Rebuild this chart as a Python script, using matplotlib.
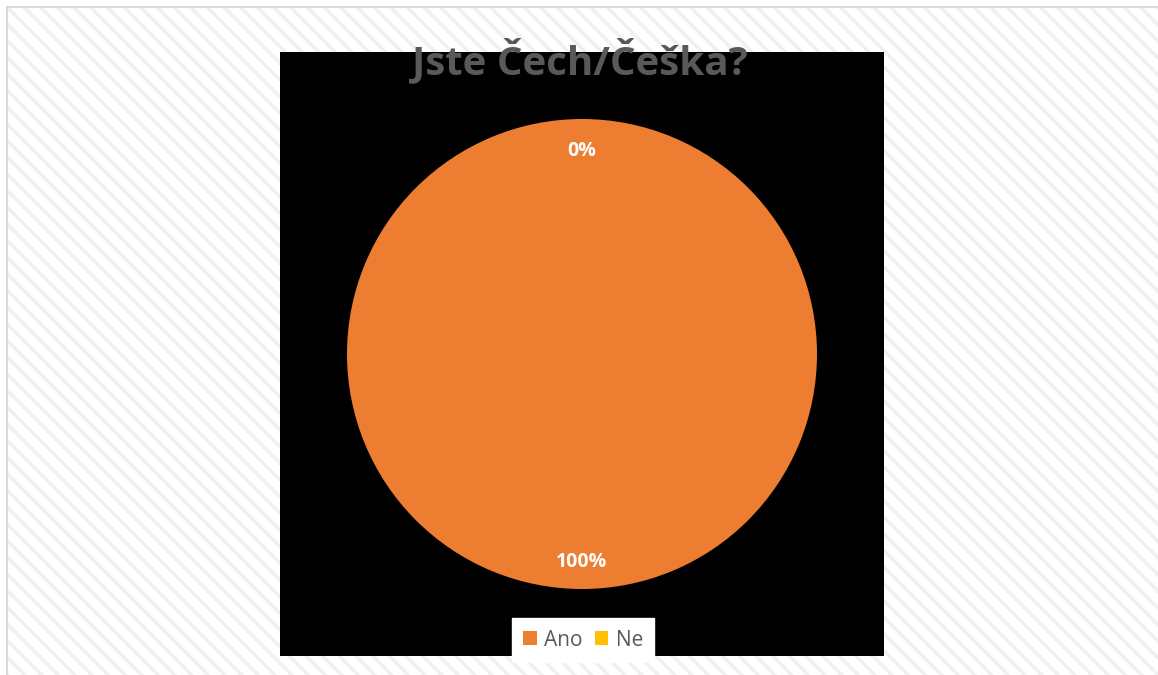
import matplotlib.pyplot as plt
from matplotlib.patches import Rectangle
from matplotlib.lines import Line2D

# Survey answers (percent)
answers = ["Ano", "Ne"]
shares = [100, 0]
colors = ["#ED7D31", "#FFC000"]

W, H = 1158, 675
plt.rcParams["font.family"] = ["Open Sans", "DejaVu Sans"]
plt.rcParams["hatch.linewidth"] = 2.5

fig = plt.figure(figsize=(W / 100, H / 100), dpi=100)
fig.patch.set_facecolor("white")

# striped chart-area background with a thin grey frame on top/left
bg = Rectangle((7 / W, -0.1), 1.2, 1.1 - 7 / H, transform=fig.transFigure,
               facecolor="white", edgecolor="#f0f0f0", hatch="\\\\", linewidth=0, zorder=-2)
fig.patches.append(bg)
fig.lines.append(Line2D([7 / W, 7 / W, 1], [0, 1 - 7 / H, 1 - 7 / H], transform=fig.transFigure,
                        color="#d9d9d9", linewidth=1.5, zorder=-1))

ax = fig.add_axes([280 / W, 1 - 656 / H, 604 / W, 604 / H])

wedges, texts, autotexts = ax.pie(
    shares, colors=colors, startangle=90, counterclock=False,
    autopct="%1.0f%%", pctdistance=0.875,
    textprops=dict(color="white", fontsize=14, fontweight="bold"),
    wedgeprops=dict(linewidth=0),
)
# nudge the percentage labels down a touch
for t in autotexts:
    x, y = t.get_position()
    t.set_position((x, y - 0.012))
# pie() switches the frame off; bring back the black plot area
ax.set_frame_on(True)
ax.set_facecolor("black")
lim = 302 / 235
ax.set_xlim(-lim, lim)
ax.set_ylim(-lim, lim)
ax.set_aspect("equal")
ax.set_xticks([])
ax.set_yticks([])
for s in ax.spines.values():
    s.set_visible(False)

fig.text(580 / W, 1 - 60 / H, "Jste Čech/Češka?", ha="center", va="center",
         fontsize=29, fontweight="bold", color="#595959")

leg = fig.legend(wedges, answers, loc="center", bbox_to_anchor=(583 / W, 1 - 640 / H),
                 ncol=2, frameon=True, fancybox=False, fontsize=15,
                 handlelength=0.65, handleheight=0.65, handletextpad=0.35,
                 columnspacing=0.6, borderpad=0.55, borderaxespad=0)
leg.get_frame().set_facecolor("white")
leg.get_frame().set_edgecolor("white")
leg.get_frame().set_alpha(1)
for t in leg.get_texts():
    t.set_color("#595959")

fig.savefig("out.png", dpi=100)
